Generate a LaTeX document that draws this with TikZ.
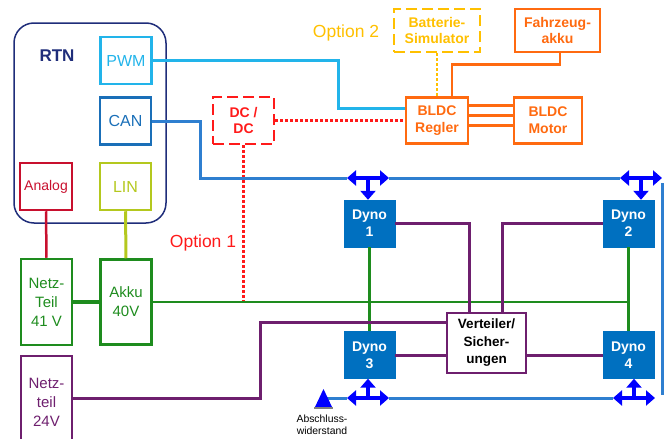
\documentclass[tikz,border=0pt]{standalone}
\usepackage{fontspec}
\setmainfont{Liberation Sans}
\usetikzlibrary{arrows.meta}
\definecolor{rtnblue}{HTML}{1F2D7A}
\definecolor{pwmblue}{HTML}{22B4EA}
\definecolor{canblue}{HTML}{1A6FB8}
\definecolor{analogred}{HTML}{C8102E}
\definecolor{linyellow}{HTML}{B4C81E}
\definecolor{psgreen}{HTML}{1E8C1E}
\definecolor{pspurple}{HTML}{6E1F6E}
\definecolor{bldcorange}{HTML}{FF6A10}
\definecolor{simyellow}{HTML}{FFC000}
\definecolor{dcred}{HTML}{FF1A1A}
\definecolor{dynoblue}{HTML}{0070C0}
\definecolor{busblue}{HTML}{2F7FD0}
\begin{document}
\begin{tikzpicture}
		[x=1pt,y=-1pt,
		ifbox/.style={draw,line width=2.5pt,inner sep=0pt,align=center,
minimum width=51pt,minimum height=47pt,font=\fontsize{16}{19}\selectfont},
		supply/.style={draw,line width=2.5pt,inner sep=0pt,align=center,
minimum width=51pt,font=\fontsize{15}{19}\selectfont},
		dyno/.style={draw=dynoblue,fill=dynoblue,text=white,inner sep=0pt,align=center,
minimum width=51pt,minimum height=47pt,font=\bfseries\fontsize{14}{16.7}\selectfont},
		bldc/.style={draw=bldcorange,text=bldcorange,line width=2.5pt,inner sep=0pt,align=center,
minimum height=46pt,font=\bfseries\fontsize{14}{16.7}\selectfont},
		optbox/.style={draw,dash pattern=on 11pt off 5pt,line width=2.5pt,inner sep=0pt,align=center,
font=\bfseries\fontsize{14}{16.7}\selectfont},
		optlabel/.style={font=\fontsize{17.5}{20}\selectfont},
		optline/.style={line width=2.5pt,dash pattern=on 2.5pt off 2.5pt},
		busline/.style={busblue,line width=3pt},
		busarrow/.style={blue,line width=4pt,-{Triangle[length=9pt,width=15pt]}},
		bustee/.style={blue,line width=4pt,{Triangle[length=9pt,width=15pt]}-{Triangle[length=9pt,width=15pt]}}]
		\useasboundingbox (0,0) rectangle (667,439);
		% RTN
		\draw[rtnblue,line width=1.5pt,rounded corners=20pt] (14,23) rectangle (166,223);
		\node at (57,56) (rtn) [text=rtnblue,font=\bfseries\fontsize{17}{20}\selectfont] {RTN};
		\node at (126,60.5) (pwm) [ifbox,pwmblue] {PWM};
		\node at (125.5,121) (can) [ifbox,canblue] {CAN};
		\node at (46,186.5) (analog) [ifbox,analogred,minimum width=52pt,font=\fontsize{14}{17}\selectfont] {Analog};
		\node at (125.5,186.5) (lin) [ifbox,linyellow] {LIN};
		% supplies
		\node at (46.5,302) (nt41) [supply,psgreen,minimum height=86pt] {Netz-\\Teil\\41 V};
		\node at (126,302) (akku) [supply,psgreen,minimum height=85pt] {Akku\\40V};
		\node at (46.5,402) (nt24) [supply,pspurple,minimum height=92pt] {Netz-\\teil\\24V};
		% options
		\node at (243.5,120.5) (dcdc) [optbox,dcred,minimum width=61pt,minimum height=47pt] {DC /\\DC};
		\node at (437,30.5) (batsim) [optbox,simyellow,minimum width=86pt,minimum height=43pt] {Batterie-\\Simulator};
		\node at (203,243) (opt1) [optlabel,dcred] {Option 1};
		\node at (346,33) (opt2) [optlabel,simyellow] {Option 2};
		% drive
		\node at (437,120.5) (regler) [bldc,minimum width=62pt] {BLDC\\Regler};
		\node at (548,120.5) (motor) [bldc,minimum width=68pt] {BLDC\\Motor};
		\node at (557.5,30.5) (fzakku) [bldc,minimum width=85pt,minimum height=43pt] {Fahrzeug-\\akku};
		% dynos
		\node at (369.5,223.5) (dyno1) [dyno] {Dyno\\1};
		\node at (628.5,223.5) (dyno2) [dyno] {Dyno\\2};
		\node at (369.5,355) (dyno3) [dyno] {Dyno\\3};
		\node at (628.5,355) (dyno4) [dyno] {Dyno\\4};
		\node at (486.5,343) (vert) [draw=pspurple,line width=2.5pt,minimum width=79pt,minimum height=60pt,inner sep=0pt,
align=center,font=\bfseries\fontsize{13.5}{17.5}\selectfont] {Verteiler/\\Sicher-\\ungen};
		% RTN wiring
		\draw[analogred,line width=2.5pt] (analog.south) -- (nt41.north);
		\draw[linyellow,line width=3pt] (lin.south) -- (akku.north);
		\coordinate (pwmbend) at (338,108);
		\draw[pwmblue,line width=3pt] (pwm.east) -| (pwmbend) -- (pwmbend -| regler.west);
		% options wiring
		\draw[dcred,optline] (dcdc.east) -- (regler.west);
		\draw[dcred,optline] (dcdc.south) -- (dcdc.south |- akku.east);
		\draw[simyellow,optline] (batsim.south) -- (batsim.south |- regler.north);
		\draw[bldcorange,line width=2.5pt] ([xshift=2.5pt]fzakku.south) -- ++(0,11) -| ([xshift=15pt]regler.north);
		\draw[bldcorange,line width=2.5pt] ([yshift=15pt]regler.east) -- ([yshift=15pt]motor.west);
		\draw[bldcorange,line width=2.5pt] ([yshift=5pt]regler.east) -- ([yshift=5pt]motor.west);
		\draw[bldcorange,line width=2.5pt] ([yshift=-5pt]regler.east) -- ([yshift=-5pt]motor.west);
		% power
		\draw[psgreen,line width=4pt] (nt41.east) -- (akku.west);
		\draw[psgreen,line width=2.5pt] (akku.east) -- (akku.east -| dyno2.south);
		\draw[psgreen,line width=2.5pt] (dyno1.south) -- (dyno3.north);
		\draw[psgreen,line width=2.5pt] (dyno2.south) -- (dyno4.north);
		\draw[pspurple,line width=3pt] (nt24.east |- 0,398) -- (260,398) |- ([yshift=21pt]vert.west);
		\draw[pspurple,line width=3pt] (dyno1.east) -| ([xshift=-17.5pt]vert.north);
		\draw[pspurple,line width=3pt] (dyno2.west) -| ([xshift=15.5pt]vert.north);
		\draw[pspurple,line width=3pt] (dyno3.east) -- (dyno3.east -| vert.west);
		\draw[pspurple,line width=3pt] (dyno4.west -| vert.east) -- (dyno4.west);
		% CAN bus
		\coordinate (t1) at (368,178);
		\coordinate (t2) at (641,178);
		\coordinate (t3) at (368,398);
		\coordinate (t4) at (634,398);
		\coordinate (term) at (327,398);
		\draw[busline] (can.east) -| (200,178) -- ([xshift=-21pt]t1);
		\draw[busline] ([xshift=21pt]t1) -- ([xshift=-21pt]t2);
		\draw[busline] (662,183) -- (662,395);
		\draw[busline] ([xshift=-21pt]t4) -- ([xshift=21pt]t3);
		\draw[busline] ([xshift=-21pt]t3) -- (term);
		\draw[bustee] ([xshift=-21pt]t1) -- ([xshift=21pt]t1);
		\draw[bustee] ([xshift=-21pt]t2) -- ([xshift=21pt]t2);
		\draw[bustee] ([xshift=-21pt]t3) -- ([xshift=21pt]t3);
		\draw[bustee] ([xshift=-21pt]t4) -- ([xshift=21pt]t4);
		\draw[busarrow] (t1) -- (t1 |- dyno1.north);
		\draw[busarrow] (t2) -- (t2 |- dyno2.north);
		\draw[busarrow] (t3) -- (t3 |- dyno3.south);
		\draw[busarrow] (t4) -- (t4 |- dyno4.south);
		% terminator
		\fill[blue] (315,407) -- (323.5,389) -- (332,407) -- cycle;
		\draw[gray,line width=1.5pt] (314,408) -- (333,408);
		\node at (322,425) (abschluss) [align=center,font=\fontsize{10.4}{12.3}\selectfont] {Abschluss-\\widerstand};
	\end{tikzpicture}
\end{document}
